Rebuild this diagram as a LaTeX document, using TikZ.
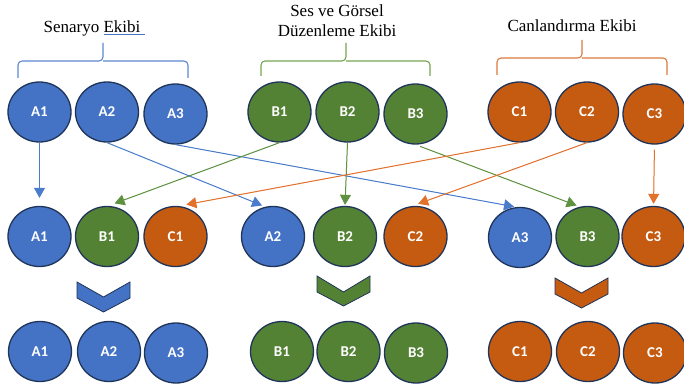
\documentclass[tikz,border=0pt]{standalone}
\usepackage{fontspec}
\setmainfont{Liberation Serif}
\newfontfamily\labelfont{Carlito}
\usetikzlibrary{arrows.meta, shapes.geometric}
\definecolor{teamblue}{HTML}{4472C4}
\definecolor{teamgreen}{HTML}{548235}
\definecolor{teamorange}{HTML}{C55A11}
\definecolor{rimnavy}{HTML}{1F3458}
\definecolor{linkblue}{HTML}{4A7CCB}
\definecolor{linkgreen}{HTML}{5E9140}
\definecolor{linkorange}{HTML}{E2712C}
\definecolor{braceblue}{HTML}{5B87CF}
\definecolor{bracegreen}{HTML}{74A552}
\definecolor{braceorange}{HTML}{DA7A3C}

\begin{document}
\begin{tikzpicture}[
    x=1pt, y=-1pt,
    member/.style={ellipse, draw=rimnavy, line width=1.3pt, minimum width=63pt, minimum height=60pt, inner sep=0pt, text=white, font=\labelfont\bfseries\fontsize{15}{15}\selectfont},
    ateam/.style={member, fill=teamblue},
    bteam/.style={member, fill=teamgreen},
    cteam/.style={member, fill=teamorange},
    title/.style={font=\fontsize{17}{20}\selectfont, align=center, anchor=base, inner sep=0pt},
    brace/.style={line width=1.1pt, rounded corners=4pt},
    chevron/.style={draw=rimnavy, line width=0.8pt, line join=miter},
    arrow/.style={-{Triangle[length=10pt, width=11pt]}, line width=1pt},
]
\useasboundingbox (0,0) rectangle (684,385);

% Team titles
\node[title] (ta) at (94.5,33) {Senaryo {\color{teamblue}\underline{\textcolor{black}{Ekibi}\hspace{5pt}}}};
\node[title] (tb) at (337,37) {Ses ve Görsel\\Düzenleme Ekibi};
\node[title] (tc) at (572,32) {Canlandırma Ekibi};

% Braces
\draw[brace, braceblue] (18,78) |- (103,61) -- (103,43);
\draw[brace, braceblue] (188,78) |- (103,61);
\draw[brace, bracegreen] (261,76) |- (346,61) -- (346,43);
\draw[brace, bracegreen] (430,76) |- (346,61);
\draw[brace, braceorange] (497,75) |- (582,58) -- (582,40);
\draw[brace, braceorange] (667,75) |- (582,58);

% Top row
\node[ateam] (a1t) at (39.5,112) {A1};
\node[ateam] (a2t) at (107,112) {A2};
\node[ateam] (a3t) at (175.5,114) {A3};
\node[bteam] (b1t) at (279.5,112) {B1};
\node[bteam] (b2t) at (347.5,112) {B2};
\node[bteam] (b3t) at (415.5,114) {B3};
\node[cteam] (c1t) at (519.5,112) {C1};
\node[cteam] (c2t) at (587,112) {C2};
\node[cteam] (c3t) at (654.5,114) {C3};

% Mixed row
\node[ateam] (a1m) at (39.5,236.5) {A1};
\node[bteam] (b1m) at (107,236.5) {B1};
\node[cteam] (c1m) at (175.5,236.5) {C1};
\node[ateam] (a2m) at (273,236.5) {A2};
\node[bteam] (b2m) at (345,236.5) {B2};
\node[cteam] (c2m) at (415.5,236.5) {C2};
\node[ateam] (a3m) at (520,237.5) {A3};
\node[bteam] (b3m) at (587.5,236.5) {B3};
\node[cteam] (c3m) at (653.5,236.5) {C3};

% Arrows from teams to mixed groups
\foreach \s/\t/\c/\dx/\sgap/\egap in {a1t/a1m/linkblue/0/0/8, a2t/a2m/linkblue/-10/0/1, a3t/a3m/linkblue/-5/0/1,
    b1t/b1m/linkgreen/1/0/7, b2t/b2m/linkgreen/0/0/1, b3t/b3m/linkgreen/-10/5/1,
    c1t/c1m/linkorange/4/0/7, c2t/c2m/linkorange/-3/0/6, c3t/c3m/linkorange/0/5/2} {
    \draw[arrow, draw=\c, fill=\c, shorten <=\sgap pt, shorten >=\egap pt] (\s.south) -- ([xshift=\dx pt]\t.north);
}

% Chevrons
\draw[chevron, fill=teamblue] (77,282) -- (103.5,297) -- (130,282) -- (130,298) -- (103.5,312) -- (77,298) -- cycle;
\draw[chevron, fill=teamgreen] (317,276) -- (343.5,292) -- (370,276) -- (370,292) -- (343.5,306) -- (317,292) -- cycle;
\draw[chevron, fill=teamorange] (555,278) -- (581.5,293) -- (608,278) -- (608,294) -- (581.5,308) -- (555,294) -- cycle;

% Bottom row
\node[ateam] (a1b) at (40,351.5) {A1};
\node[ateam] (a2b) at (109,351.5) {A2};
\node[ateam] (a3b) at (176,353) {A3};
\node[bteam] (b1b) at (282,351.5) {B1};
\node[bteam] (b2b) at (348.5,351.5) {B2};
\node[bteam] (b3b) at (416,353) {B3};
\node[cteam] (c1b) at (520,351.5) {C1};
\node[cteam] (c2b) at (588,351.5) {C2};
\node[cteam] (c3b) at (655,353) {C3};

\end{tikzpicture}
\end{document}
